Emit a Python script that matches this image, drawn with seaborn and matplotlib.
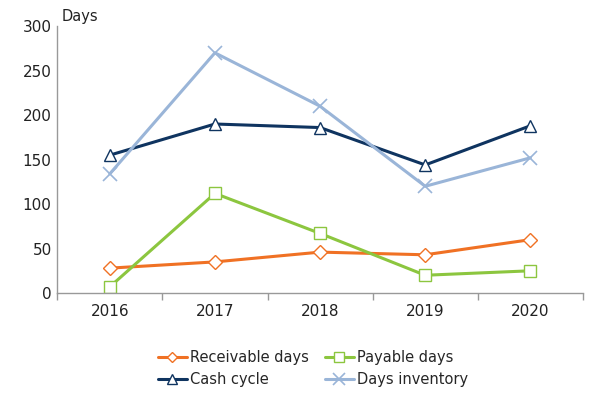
import matplotlib
matplotlib.use("Agg")
import matplotlib.pyplot as plt
import seaborn as sns
import pandas as pd
import numpy as np

years = ["2016", "2017", "2018", "2019", "2020"]
receivable = [28, 35, 46, 43, 60]
payable = [7, 112, 67, 20, 25]
cash_cycle = [155, 190, 186, 144, 188]
days_inventory = [134, 270, 210, 120, 152]

series = [
    ("Receivable days", receivable, "#F07124", "D", 7),
    ("Payable days", payable, "#8CC63F", "s", 9),
    ("Cash cycle", cash_cycle, "#0F3460", "^", 9),
    ("Days inventory", days_inventory, "#9AB5D8", "x", 10),
]

sns.set_theme(style="white")
plt.rcParams['font.family'] = ['DejaVu Sans']

fig = plt.figure(figsize=(5.9, 3.96), dpi=100)
ax = fig.add_axes([0.097, 0.26, 0.891, 0.674])

xpos = np.arange(len(years))
for name, vals, color, mk, ms in series:
    df = pd.DataFrame({"x": xpos, "y": vals})
    kw = dict(marker=mk, markersize=ms, markerfacecolor="white",
              markeredgecolor=color, markeredgewidth=1.0)
    if mk == "x":
        kw = dict(marker=mk, markersize=ms, markeredgecolor=color, markeredgewidth=1.2)
    sns.lineplot(data=df, x="x", y="y", ax=ax, color=color, linewidth=2.2,
                 label=name, legend=False, **kw)

ax.set_xlim(-0.5, 4.5)
ax.set_ylim(0, 300)
ax.set_yticks([0, 50, 100, 150, 200, 250, 300])
ax.set_xticks(xpos)
ax.set_xticklabels(years)
ax.set_xticks(np.arange(-0.5, 5, 1), minor=True)
ax.tick_params(axis="x", which="major", length=0, labelsize=11, pad=8, colors="#222222")
ax.tick_params(axis="x", which="minor", length=5, width=1, color="#999999", direction="out", bottom=True)
ax.tick_params(axis="y", length=0, labelsize=11, pad=4, colors="#222222")
ax.set_xlabel("")
ax.set_ylabel("")
for s in ["top", "right"]:
    ax.spines[s].set_visible(False)
for s in ["left", "bottom"]:
    ax.spines[s].set_color("#999999")
    ax.spines[s].set_linewidth(1)

fig.text(62 / 590, 1 - 16 / 396, "Days", fontsize=10.5, va="center", ha="left", color="#222222")

h, l = ax.get_legend_handles_labels()
order = [0, 2, 1, 3]
fig.legend([h[i] for i in order], [l[i] for i in order], ncol=2, loc="center",
           bbox_to_anchor=(0.53, 0.07), frameon=False, fontsize=10.5,
           handlelength=2.0, columnspacing=1.1, labelspacing=0.5, handletextpad=0.2,
           markerscale=0.8)

fig.savefig("out.png", dpi=100)
